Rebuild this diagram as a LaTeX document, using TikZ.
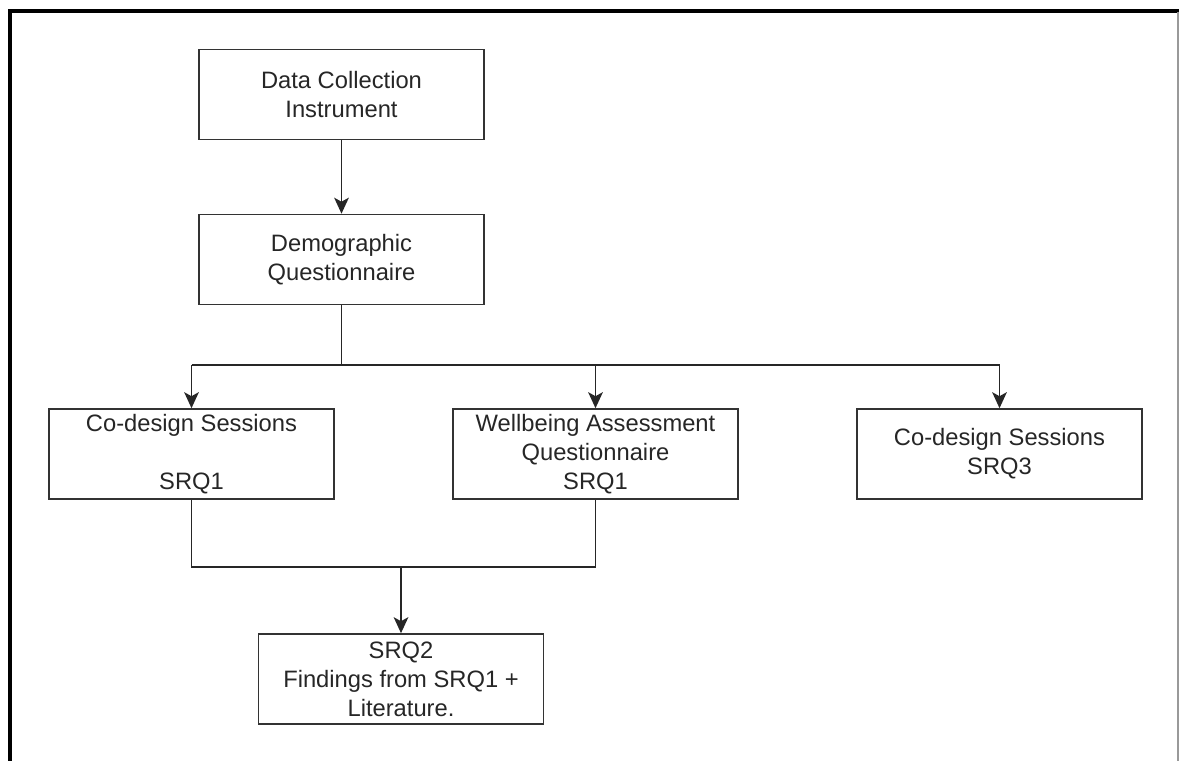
\documentclass[tikz,border=0pt]{standalone}
\usepackage{fontspec}
\setmainfont{Liberation Sans}
\usetikzlibrary{arrows.meta}
\begin{document}
\begin{tikzpicture}[x=0.75pt,y=-0.75pt,
  box/.style={draw=black!80, line width=1.2pt, align=center, inner sep=0pt,
    minimum width=213.75pt, minimum height=67.5pt, text=black!85,
    font=\fontsize{17.8}{21.75}\selectfont},
  link/.style={draw=black!85, line width=1.2pt},
  flow/.style={link, -{Stealth[length=12pt,width=11pt,inset=3pt]}},
  frame/.style={line width=3pt, black}]
  % page area
  \useasboundingbox (0,0) rectangle (1179,761);
  % outer frame: heavy top and left edges, hairline right edge
  \draw[frame] (8,11) -- (1179,11);
  \draw[frame] (10,9.5) -- (10,761);
  \draw[black!40, line width=0.8pt] (1178,12) -- (1178,761);

  % boxes
  \node[box] (data) at (341.5,94.5) {Data Collection\\Instrument};
  \node[box] (demo) at (341.5,259.5) {Demographic\\Questionnaire};
  \node[box] (cd1)  at (191.5,454) {Co-design Sessions\\[21.75pt]SRQ1};
  \node[box] (wb)   at (595.5,454) {Wellbeing Assessment\\Questionnaire\\SRQ1};
  \node[box] (cd3)  at (999.5,454) {Co-design Sessions\\SRQ3};
  \node[box] (srq2) at (401,679) {SRQ2\\Findings from SRQ1 +\\Literature.};

  % junction points
  \coordinate (split) at (341.5,365);
  \coordinate (splitL) at (191.5,365);
  \coordinate (splitM) at (595.5,365);
  \coordinate (splitR) at (999.5,365);
  \coordinate (joinL) at (191.5,567);
  \coordinate (joinR) at (595.5,567);
  \coordinate (join) at (401,567);

  % connectors
  \draw[flow] (data) -- (demo);
  \draw[link] (demo) -- (split);
  \draw[link] (splitL) -- (splitR);
  \draw[flow] (splitL) -- (cd1);
  \draw[flow] (splitM) -- (wb);
  \draw[flow] (splitR) -- (cd3);
  \draw[link] (cd1) -- (joinL) -- (joinR) -- (wb);
  \draw[flow] (join) -- (srq2);
\end{tikzpicture}
\end{document}
